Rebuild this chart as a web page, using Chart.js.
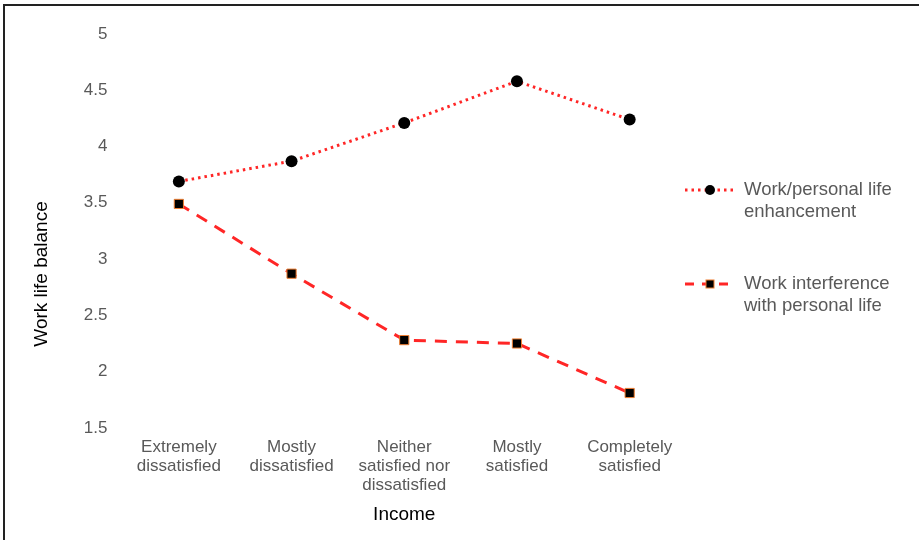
<!DOCTYPE html>
<html>
<head>
<meta charset="utf-8">
<script src="https://cdn.jsdelivr.net/npm/chart.js@4.4.1/dist/chart.umd.min.js"></script>
<style>
  html, body { margin: 0; padding: 0; background: #fff; }
  #wrap { position: relative; width: 919px; height: 540px; overflow: hidden; }
  #frame { position: absolute; left: 3px; top: 4px; width: 930px; height: 560px;
           border-top: 2px solid #222; border-left: 2px solid #222; pointer-events: none; }
</style>
</head>
<body>
<div id="wrap">
  <canvas id="balanceChart" width="919" height="540"></canvas>
  <div id="frame"></div>
</div>
<script>
// Satisfaction with income vs. work life balance scores
const categories = [
    ['Extremely', 'dissatisfied'],
    ['Mostly', 'dissatisfied'],
    ['Neither', 'satisfied nor', 'dissatisfied'],
    ['Mostly', 'satisfied'],
    ['Completely', 'satisfied']
];
const enhancement = [3.69, 3.87, 4.21, 4.58, 4.24];
const interference = [3.49, 2.87, 2.28, 2.25, 1.81];
const seriesNames = [
    ['Work/personal life', 'enhancement'],
    ['Work interference', 'with personal life']
];
const yTicks = [1.5, 2, 2.5, 3, 3.5, 4, 4.5, 5];

const FONT = "'Liberation Sans', Arial, sans-serif";
const GREY = '#595959';
const RED = 'rgb(255, 38, 38)';

// legend on the right: line sample with marker, two-line label
const sideLegend = {
    id: 'sideLegend',
    afterDraw(chart) {
        const c = chart.ctx;
        const rows = [190, 284];
        chart.data.datasets.forEach((ds, i) => {
            const y = rows[i];
            c.save();
            c.strokeStyle = ds.borderColor;
            c.lineWidth = ds.borderWidth;
            c.setLineDash(i === 0 ? [2.5, 4] : [9, 8]);
            c.beginPath();
            c.moveTo(685, y);
            c.lineTo(736, y);
            c.stroke();
            c.setLineDash([]);
            c.fillStyle = '#000';
            if (i === 0) {
                c.beginPath();
                c.arc(710, y, 5, 0, Math.PI * 2);
                c.fill();
            } else {
                c.fillRect(706, y - 4, 8, 8);
                c.strokeStyle = '#ED7D31';
                c.lineWidth = 1;
                c.strokeRect(706, y - 4, 8, 8);
            }
            c.fillStyle = GREY;
            c.font = '18.5px ' + FONT;
            c.textBaseline = 'middle';
            c.textAlign = 'left';
            seriesNames[i].forEach((line, k) => c.fillText(line, 744, y + k * 22));
            c.restore();
        });

        // rotated y axis title
        c.save();
        c.translate(42, 274);
        c.rotate(-Math.PI / 2);
        c.fillStyle = '#000';
        c.font = '19px ' + FONT;
        c.textAlign = 'center';
        c.textBaseline = 'middle';
        c.fillText('Work life balance', 0, 0);
        c.restore();
    }
};

const ctx = document.getElementById('balanceChart').getContext('2d');
const balanceChart = new Chart(ctx, {
    type: 'line',
    data: {
        labels: categories,
        datasets: [{
            label: seriesNames[0].join(' '),
            data: enhancement,
            borderColor: RED,
            borderWidth: 3,
            borderDash: [2.5, 4],
            pointStyle: 'circle',
            pointRadius: 6,
            pointBackgroundColor: '#000',
            pointBorderColor: '#000',
            pointBorderWidth: 0,
            tension: 0
        }, {
            label: seriesNames[1].join(' '),
            data: interference,
            borderColor: RED,
            borderWidth: 3,
            borderDash: [12, 9],
            pointStyle: 'rect',
            pointRadius: 6.5,
            pointBackgroundColor: '#000',
            pointBorderColor: '#ED7D31',
            pointBorderWidth: 1,
            tension: 0
        }]
    },
    options: {
        responsive: false,
        animation: false,
        layout: { padding: { top: 34, right: 233, bottom: 16, left: 0 } },
        plugins: {
            legend: { display: false },
            tooltip: { enabled: false }
        },
        scales: {
            x: {
                offset: true,
                grid: { display: false, drawTicks: false },
                border: { display: false },
                ticks: {
                    color: GREY,
                    font: { family: FONT, size: 17, lineHeight: 1.12 },
                    padding: 10,
                    maxRotation: 0,
                    autoSkip: false
                },
                title: {
                    display: true,
                    text: 'Income',
                    color: '#000',
                    font: { family: FONT, size: 19, lineHeight: 1.0 },
                    padding: { top: 0, bottom: 0 }
                }
            },
            y: {
                min: 1.5,
                max: 5,
                afterFit(scale) { scale.width = 122.5; },
                afterBuildTicks(scale) { scale.ticks = yTicks.map(v => ({ value: v })); },
                grid: { display: false, drawTicks: false },
                border: { display: false },
                ticks: {
                    color: GREY,
                    font: { family: FONT, size: 17 },
                    padding: 15,
                    callback: v => String(v)
                }
            }
        }
    },
    plugins: [sideLegend]
});
</script>
</body>
</html>
